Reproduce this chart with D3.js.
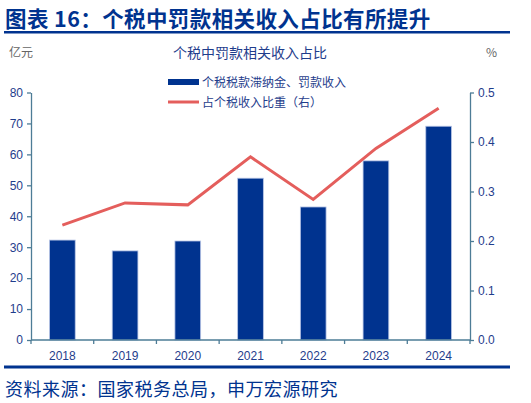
<!DOCTYPE html>
<html>
<head>
<meta charset="utf-8">
<script src="https://cdn.jsdelivr.net/npm/d3@7"></script>
<style>
  html, body { margin: 0; padding: 0; background: #fff; }
  svg { display: block; font-family: "Noto Sans CJK SC", "Liberation Sans", sans-serif; }
</style>
</head>
<body>
<svg id="chart"></svg>
<script>
// Data
const years = ["2018", "2019", "2020", "2021", "2022", "2023", "2024"];
const penaltyIncome = [32.3, 28.8, 32.0, 52.3, 43.0, 57.9, 69.1];
const shareOfTax = [0.232, 0.277, 0.273, 0.370, 0.284, 0.387, 0.468];
const leftTicks = [0, 10, 20, 30, 40, 50, 60, 70, 80];
const rightTicks = [0, 0.1, 0.2, 0.3, 0.4, 0.5];

const width = 531;
const height = 403;
const navy = "#00338f";
const textBlue = "#1f3d8c";
const axisColor = "#4d7c96";
const red = "#e45e5c";

const svg = d3.select("#chart")
    .attr("width", width)
    .attr("height", height);

const margin = { top: 92.5, right: 61, bottom: 63, left: 31 };
const x0 = margin.left, x1 = width - margin.right;
const y0 = height - margin.bottom, y1 = margin.top;

// Header
svg.append("text")
    .attr("x", 5).attr("y", 27)
    .attr("fill", navy)
    .style("font-size", "21.5px")
    .style("font-weight", "bold")
    .style("letter-spacing", "0.4px")
    .text("图表 16：个税中罚款相关收入占比有所提升");

svg.append("rect")
    .attr("x", 4).attr("y", 31)
    .attr("width", 506).attr("height", 2.5)
    .attr("fill", navy);

svg.append("text")
    .attr("x", 9).attr("y", 57)
    .attr("fill", "#666")
    .style("font-size", "12px")
    .text("亿元");

svg.append("text")
    .attr("x", 250).attr("y", 58)
    .attr("text-anchor", "middle")
    .attr("fill", textBlue)
    .style("font-size", "14px")
    .text("个税中罚款相关收入占比");

svg.append("text")
    .attr("x", 486).attr("y", 57)
    .attr("fill", "#666")
    .style("font-size", "12px")
    .text("%");

// Scales
const x = d3.scaleBand()
    .domain(years)
    .range([x0, x1])
    .paddingInner(0.59)
    .paddingOuter(0.295);

const xTicks = d3.scalePoint()
    .domain(d3.range(years.length + 1))
    .range([x0, x1]);

const yLeft = d3.scaleLinear().domain([0, 80]).range([y0, y1]);
const yRight = d3.scaleLinear().domain([0, 0.5]).range([y0, y1]);

// Bars
svg.append("g")
    .selectAll("rect")
    .data(years)
    .join("rect")
    .attr("x", d => x(d))
    .attr("y", (d, i) => yLeft(penaltyIncome[i]))
    .attr("width", x.bandwidth())
    .attr("height", (d, i) => y0 - yLeft(penaltyIncome[i]))
    .attr("fill", navy)
    .attr("stroke", "#b8c6e6")
    .attr("stroke-width", 0.8);

// Line
const line = d3.line()
    .x((d, i) => x(years[i]) + x.bandwidth() / 2)
    .y(d => yRight(d));

svg.append("path")
    .datum(shareOfTax)
    .attr("d", line)
    .attr("fill", "none")
    .attr("stroke", red)
    .attr("stroke-width", 3);

// Axes
const styleAxis = g => {
    g.select(".domain").attr("stroke", axisColor).attr("stroke-width", 1.3);
    g.selectAll(".tick line").attr("stroke", axisColor).attr("stroke-width", 1.3);
    g.selectAll(".tick text")
        .attr("fill", textBlue)
        .style("font-family", "'Liberation Sans', Arial, sans-serif")
        .style("font-size", "12px");
};

svg.append("g")
    .attr("transform", `translate(${x0},0)`)
    .call(d3.axisLeft(yLeft).tickValues(leftTicks).tickSize(4).tickSizeOuter(0).tickPadding(4))
    .call(styleAxis);

svg.append("g")
    .attr("transform", `translate(${x1},0)`)
    .call(d3.axisRight(yRight).tickValues(rightTicks).tickFormat(d3.format(".1f")).tickSize(4).tickSizeOuter(0).tickPadding(4))
    .call(styleAxis);

const xAxis = svg.append("g")
    .attr("transform", `translate(0,${y0})`);
xAxis.append("line")
    .attr("x1", x0).attr("x2", x1)
    .attr("stroke", axisColor).attr("stroke-width", 1.3);
xAxis.selectAll(".xt")
    .data(xTicks.domain())
    .join("line")
    .attr("x1", d => xTicks(d)).attr("x2", d => xTicks(d))
    .attr("y1", 0).attr("y2", 4)
    .attr("stroke", axisColor).attr("stroke-width", 1.3);
xAxis.selectAll("text")
    .data(years)
    .join("text")
    .attr("x", d => x(d) + x.bandwidth() / 2)
    .attr("y", 20)
    .attr("text-anchor", "middle")
    .attr("fill", textBlue)
    .style("font-family", "'Liberation Sans', Arial, sans-serif")
    .style("font-size", "12px")
    .text(d => d);

// Legend
const legend = svg.append("g");
legend.append("rect")
    .attr("x", 168).attr("y", 79)
    .attr("width", 31).attr("height", 6)
    .attr("fill", navy);
legend.append("text")
    .attr("x", 202).attr("y", 86.5)
    .attr("fill", textBlue)
    .style("font-size", "12px")
    .text("个税税款滞纳金、罚款收入");
legend.append("line")
    .attr("x1", 168).attr("x2", 199)
    .attr("y1", 102).attr("y2", 102)
    .attr("stroke", red).attr("stroke-width", 3);
legend.append("text")
    .attr("x", 202).attr("y", 106.5)
    .attr("fill", textBlue)
    .style("font-size", "12px")
    .text("占个税收入比重（右）");

// Footer
svg.append("rect")
    .attr("x", 4).attr("y", 365.5)
    .attr("width", 506).attr("height", 3)
    .attr("fill", navy);

svg.append("text")
    .attr("x", 5).attr("y", 396)
    .attr("fill", navy)
    .style("font-size", "18px")
    .style("letter-spacing", "0.5px")
    .text("资料来源：国家税务总局，申万宏源研究");
</script>
</body>
</html>
